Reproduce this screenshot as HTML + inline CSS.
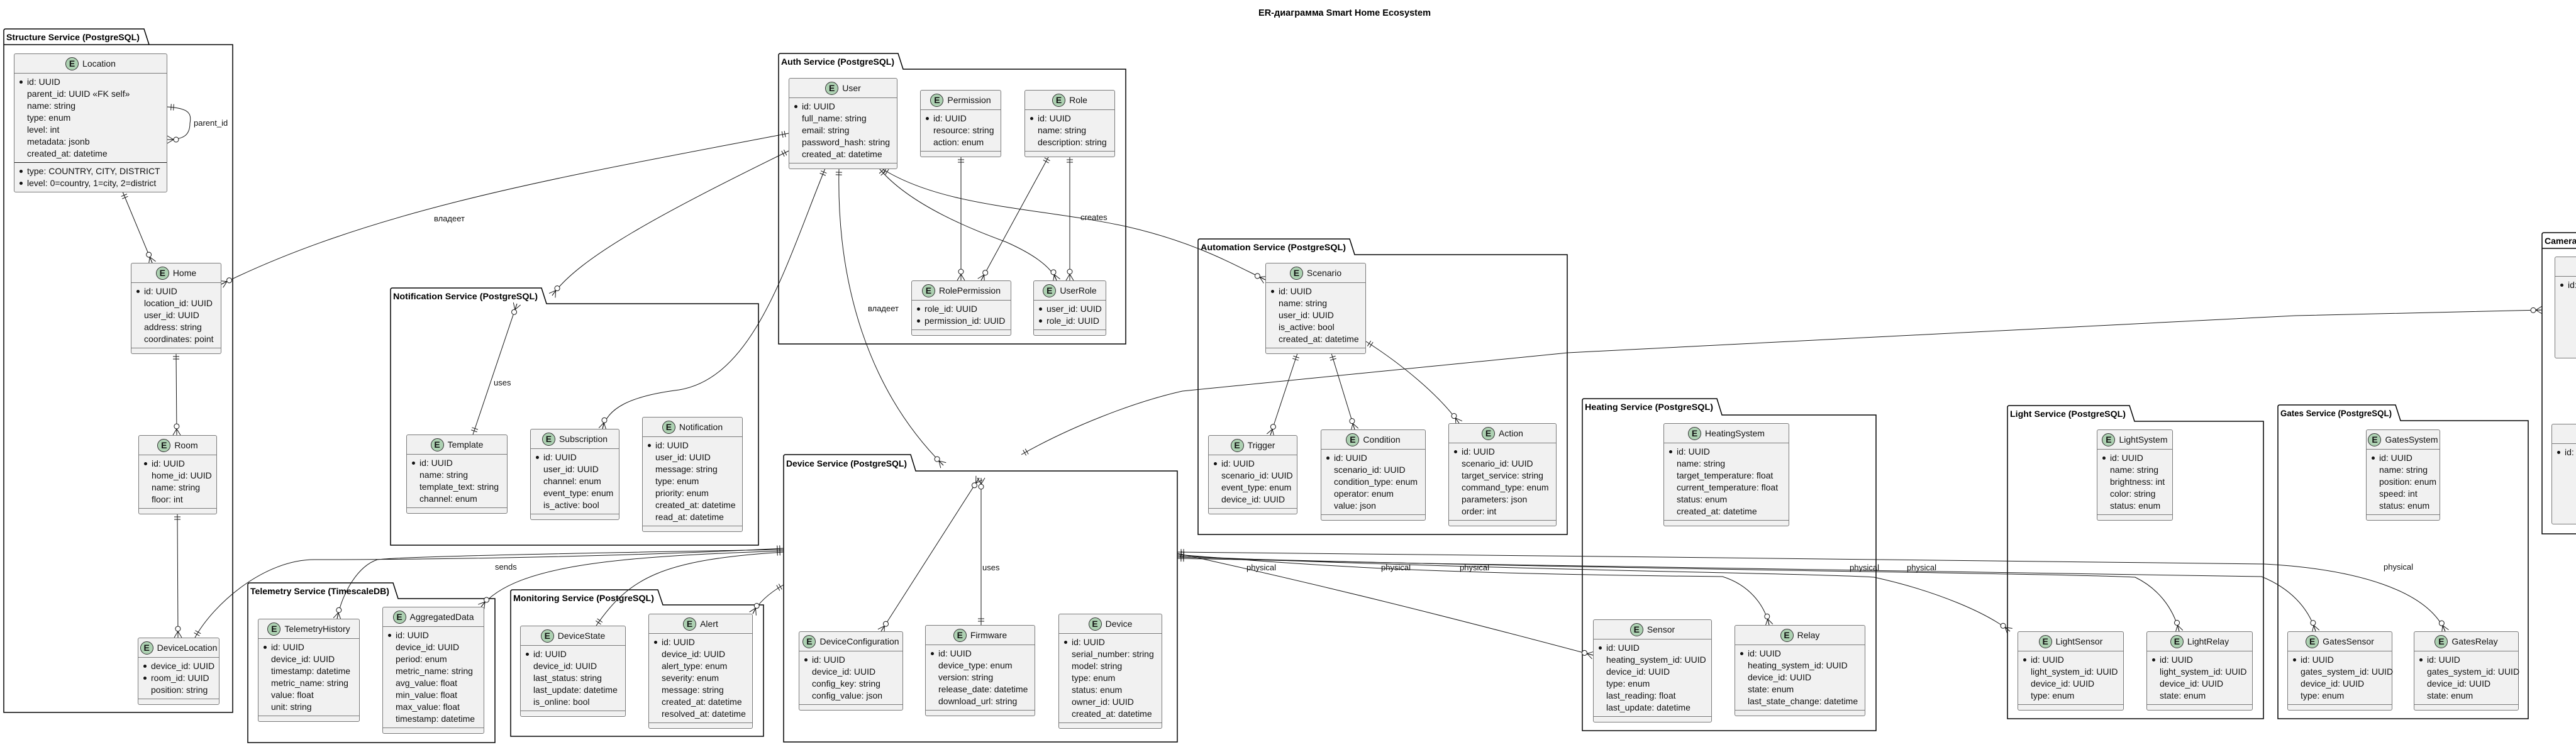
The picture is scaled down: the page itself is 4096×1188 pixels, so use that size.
<!DOCTYPE html>
<html><head><meta charset="utf-8">
<style>
html,body{margin:0;padding:0;background:#fff}
#w{position:relative;width:4096px;height:1188px;overflow:hidden;background:#fff;font-family:"Liberation Sans","DejaVu Sans",sans-serif}
svg{position:absolute;left:0;top:0}
.e{position:absolute;background:#f1f1f1;border:1px solid #7a7a7a;border-radius:3px;font-size:14px;color:#111;z-index:2;box-sizing:border-box}
.h{height:30px;border-bottom:1px solid #7a7a7a;display:flex;align-items:center;justify-content:center;gap:6px;white-space:nowrap}
.c{width:21px;height:21px;border-radius:50%;background:#ADD1B2;border:1px solid #333;font-weight:bold;display:flex;align-items:center;justify-content:center;font-size:14px;box-sizing:border-box;flex:none}
.b{padding:4px 0 4px 20px}
.r{height:19px;line-height:19px;white-space:nowrap;position:relative}
.k::before{content:"";position:absolute;left:-12px;top:7px;width:5px;height:5px;border-radius:50%;background:#111}
.s{border-top:1px solid #222}
.f{height:8px;border-top:1px solid #7a7a7a}
</style></head><body><div id="w">
<svg width="4096" height="1188" viewBox="0 0 4096 1188" xmlns="http://www.w3.org/2000/svg">
<defs>
<marker id="zm" markerUnits="userSpaceOnUse" markerWidth="30" markerHeight="20" refX="0" refY="0" viewBox="-22 -10 24 20" orient="auto-start-reverse">
<path d="M-10,0 L0,-6 M-10,0 L0,6 M-10,0 L0,0" stroke="#181818" stroke-width="1" fill="none"/>
<circle cx="-14" cy="0" r="4" fill="#fff" stroke="#181818" stroke-width="1"/>
</marker>
<marker id="one" markerUnits="userSpaceOnUse" markerWidth="30" markerHeight="20" refX="0" refY="0" viewBox="-22 -10 24 20" orient="auto-start-reverse">
<path d="M-6,-5 L-6,5 M-10,-5 L-10,5" stroke="#181818" stroke-width="1" fill="none"/>
</marker>
</defs>
<text x="2001" y="25" font-size="15" font-weight="bold" fill="#000" textLength="274" lengthAdjust="spacingAndGlyphs">ER-диаграмма Smart Home Ecosystem</text>
<g fill="none" stroke="#000" stroke-width="1.5">
<path d="M6,71 L6,49 Q6,46 9,46 L229,46 L237,71 L370,71 L370,1133 L6,1133 Z M6,71 L237,71"/>
<path d="M1238,110 L1238,88 Q1238,85 1241,85 L1428,85 L1436,110 L1790,110 L1790,547 L1238,547 Z"/>
<path d="M621,483 L621,461 Q621,458 624,458 L861,458 L869,483 L1206,483 L1206,867 L621,867 Z"/>
<path d="M394,952 L394,930 Q394,927 397,927 L625,927 L633,952 L787,952 L787,1181 L394,1181 Z"/>
<path d="M812,962 L812,941 Q812,938 815,938 L1046,938 L1054,962 L1214,962 L1214,1171 L812,1171 Z"/>
<path d="M1246,749 L1246,726 Q1246,723 1249,723 L1448,723 L1456,749 L1872,749 L1872,1180 L1246,1180 Z"/>
<path d="M1905,405 L1905,383 Q1905,380 1908,380 L2146,380 L2154,405 L2492,405 L2492,850 L1905,850 Z"/>
<path d="M2516,660 L2516,637 Q2516,634 2519,634 L2730,634 L2738,660 L2983,660 L2983,1162 L2516,1162 Z"/>
<path d="M3192,670 L3192,648 Q3192,645 3195,645 L3386,645 L3394,670 L3599,670 L3599,1143 L3192,1143 Z"/>
<path d="M3622,669 L3622,647 Q3622,644 3625,644 L3809,644 L3817,669 L4020,669 L4020,1143 L3622,1143 Z"/>
<path d="M4042,395 L4042,373 Q4042,370 4045,370 L4200,370 L4200,395 L4200,849 L4042,849 Z M4042,395 L4100,395"/>
</g>
<g font-size="14" font-weight="bold" fill="#000" lengthAdjust="spacingAndGlyphs">
<text x="10" y="64" textLength="212" lengthAdjust="spacingAndGlyphs">Structure Service (PostgreSQL)</text>
<text x="1242" y="103" textLength="180" lengthAdjust="spacingAndGlyphs">Auth Service (PostgreSQL)</text>
<text x="625" y="476" textLength="230" lengthAdjust="spacingAndGlyphs">Notification Service (PostgreSQL)</text>
<text x="398" y="945" textLength="221" lengthAdjust="spacingAndGlyphs">Telemetry Service (TimescaleDB)</text>
<text x="816" y="956" textLength="224" lengthAdjust="spacingAndGlyphs">Monitoring Service (PostgreSQL)</text>
<text x="1250" y="742" textLength="192" lengthAdjust="spacingAndGlyphs">Device Service (PostgreSQL)</text>
<text x="1909" y="398" textLength="231" lengthAdjust="spacingAndGlyphs">Automation Service (PostgreSQL)</text>
<text x="2520" y="652" textLength="204" lengthAdjust="spacingAndGlyphs">Heating Service (PostgreSQL)</text>
<text x="3196" y="663" textLength="184" lengthAdjust="spacingAndGlyphs">Light Service (PostgreSQL)</text>
<text x="3626" y="662" textLength="177" lengthAdjust="spacingAndGlyphs">Gates Service (PostgreSQL)</text>
<text x="4046" y="388">Camera Service</text>
</g>
<g fill="none" stroke="#181818" stroke-width="1">
<path d="M266,170 C300,172 305,180 302,196 C302,215 292,222 266,222" marker-start="url(#one)" marker-end="url(#zm)"/>
<path d="M195,305 L242,418" marker-start="url(#one)" marker-end="url(#zm)"/>
<path d="M280,561 L281,692" marker-start="url(#one)" marker-end="url(#zm)"/>
<path d="M282,816 L283,1014" marker-start="url(#one)" marker-end="url(#zm)"/>
<path d="M1254,212 C900,280 600,330 352,452" marker-start="url(#one)" marker-end="url(#zm)"/>
<path d="M1254,240 C1050,340 920,410 878,470" marker-start="url(#one)" marker-end="url(#zm)"/>
<path d="M752,691 L822,483" marker-start="url(#one)" marker-end="url(#zm)"/>
<path d="M1312,268 C1250,420 1200,600 1080,620 C1000,630 965,650 958,682" marker-start="url(#one)" marker-end="url(#zm)"/>
<path d="M1334,268 C1330,450 1380,620 1500,740" marker-start="url(#one)" marker-end="url(#zm)"/>
<path d="M1398,268 C1450,330 1560,370 1600,385 C1645,405 1672,425 1680,446" marker-start="url(#one)" marker-end="url(#zm)"/>
<path d="M1402,268 C1500,330 1650,330 1790,360 C1900,385 1960,420 2012,445" marker-start="url(#one)" marker-end="url(#zm)"/>
<path d="M1528,248 L1528,446" marker-start="url(#one)" marker-end="url(#zm)"/>
<path d="M1668,248 L1560,446" marker-start="url(#one)" marker-end="url(#zm)"/>
<path d="M1701,248 L1701,446" marker-start="url(#one)" marker-end="url(#zm)"/>
<path d="M2063,562 L2020,692" marker-start="url(#one)" marker-end="url(#zm)"/>
<path d="M2117,562 L2154,683" marker-start="url(#one)" marker-end="url(#zm)"/>
<path d="M2172,543 C2230,580 2290,630 2320,673" marker-start="url(#one)" marker-end="url(#zm)"/>
<path d="M1624,723 C1700,680 1800,640 1880,622 L2493,561 L3650,502 L4042,493" marker-start="url(#one)" marker-end="url(#zm)"/>
<path d="M1401,1004 L1557,760" marker-start="url(#zm)" marker-end="url(#zm)"/>
<path d="M1560,994 L1560,760" marker-start="url(#one)" marker-end="url(#zm)"/>
<path d="M1246,872 C1000,885 700,890 500,890 C420,890 340,960 310,1014" marker-start="url(#one)" marker-end="url(#one)"/>
<path d="M1246,874 C900,880 640,885 600,890 C570,900 545,940 536,984" marker-start="url(#one)" marker-end="url(#zm)"/>
<path d="M1246,876 C1000,885 820,895 765,965" marker-start="url(#one)" marker-end="url(#zm)"/>
<path d="M1246,878 C1050,890 1000,920 948,995" marker-start="url(#one)" marker-end="url(#one)"/>
<path d="M1246,930 C1220,945 1205,960 1197,976" marker-start="url(#one)" marker-end="url(#zm)"/>
<path d="M1872,880 C2100,930 2300,980 2533,1042" marker-start="url(#one)" marker-end="url(#zm)"/>
<path d="M1872,882 C2100,900 2250,912 2739,917 C2780,930 2805,960 2813,994" marker-start="url(#one)" marker-end="url(#zm)"/>
<path d="M1872,884 C2300,905 2900,912 2980,918 C3080,940 3160,975 3196,1004" marker-start="url(#one)" marker-end="url(#zm)"/>
<path d="M1872,886 C2500,905 3300,912 3395,918 C3430,935 3455,965 3465,1004" marker-start="url(#one)" marker-end="url(#zm)"/>
<path d="M1872,888 C2600,905 3500,912 3596,917 C3640,935 3670,965 3682,1004" marker-start="url(#one)" marker-end="url(#zm)"/>
<path d="M1872,878 C2400,885 3300,890 3600,897 C3750,905 3860,940 3888,1004" marker-start="url(#one)" marker-end="url(#zm)"/>
</g>
<g font-size="13" fill="#111">
<text x="308" y="200">parent_id</text>
<text x="690" y="352">владеет</text>
<text x="785" y="613">uses</text>
<text x="1380" y="495">владеет</text>
<text x="1718" y="350">creates</text>
<text x="1562" y="907">uses</text>
<text x="787" y="906">sends</text>
<text x="1982" y="907">physical</text>
<text x="2196" y="907">physical</text>
<text x="2321" y="907">physical</text>
<text x="2941" y="907">physical</text>
<text x="3032" y="907">physical</text>
<text x="3790" y="906">physical</text>
</g>
</svg>

<div class="e" style="left:22px;top:85px;width:244px"><div class="h"><span class="c">E</span>Location</div><div class="b"><div class="r k">id: UUID</div><div class="r">parent_id: UUID «FK self»</div><div class="r">name: string</div><div class="r">type: enum</div><div class="r">level: int</div><div class="r">metadata: jsonb</div><div class="r">created_at: datetime</div></div><div class="b s"><div class="r k">type: COUNTRY, CITY, DISTRICT</div><div class="r k">level: 0=country, 1=city, 2=district</div></div></div>
<div class="e" style="left:208px;top:418px;width:144px"><div class="h"><span class="c">E</span>Home</div><div class="b"><div class="r k">id: UUID</div><div class="r">location_id: UUID</div><div class="r">user_id: UUID</div><div class="r">address: string</div><div class="r">coordinates: point</div></div><div class="f"></div></div>
<div class="e" style="left:220px;top:692px;width:125px"><div class="h"><span class="c">E</span>Room</div><div class="b"><div class="r k">id: UUID</div><div class="r">home_id: UUID</div><div class="r">name: string</div><div class="r">floor: int</div></div><div class="f"></div></div>
<div class="e" style="left:219px;top:1014px;width:130px"><div class="h"><span class="c">E</span>DeviceLocation</div><div class="b"><div class="r k">device_id: UUID</div><div class="r k">room_id: UUID</div><div class="r">position: string</div></div><div class="f"></div></div>

<div class="e" style="left:1254px;top:124px;width:173px"><div class="h"><span class="c">E</span>User</div><div class="b"><div class="r k">id: UUID</div><div class="r">full_name: string</div><div class="r">email: string</div><div class="r">password_hash: string</div><div class="r">created_at: datetime</div></div><div class="f"></div></div>
<div class="e" style="left:1463px;top:143px;width:129px"><div class="h"><span class="c">E</span>Permission</div><div class="b"><div class="r k">id: UUID</div><div class="r">resource: string</div><div class="r">action: enum</div></div><div class="f"></div></div>
<div class="e" style="left:1629px;top:143px;width:144px"><div class="h"><span class="c">E</span>Role</div><div class="b"><div class="r k">id: UUID</div><div class="r">name: string</div><div class="r">description: string</div></div><div class="f"></div></div>
<div class="e" style="left:1449px;top:446px;width:159px"><div class="h"><span class="c">E</span>RolePermission</div><div class="b"><div class="r k">role_id: UUID</div><div class="r k">permission_id: UUID</div></div><div class="f"></div></div>
<div class="e" style="left:1643px;top:446px;width:116px"><div class="h"><span class="c">E</span>UserRole</div><div class="b"><div class="r k">user_id: UUID</div><div class="r k">role_id: UUID</div></div><div class="f"></div></div>

<div class="e" style="left:646px;top:691px;width:161px"><div class="h"><span class="c">E</span>Template</div><div class="b"><div class="r k">id: UUID</div><div class="r">name: string</div><div class="r">template_text: string</div><div class="r">channel: enum</div></div><div class="f"></div></div>
<div class="e" style="left:843px;top:682px;width:142px"><div class="h"><span class="c">E</span>Subscription</div><div class="b"><div class="r k">id: UUID</div><div class="r">user_id: UUID</div><div class="r">channel: enum</div><div class="r">event_type: enum</div><div class="r">is_active: bool</div></div><div class="f"></div></div>
<div class="e" style="left:1021px;top:663px;width:160px"><div class="h"><span class="c">E</span>Notification</div><div class="b"><div class="r k">id: UUID</div><div class="r">user_id: UUID</div><div class="r">message: string</div><div class="r">type: enum</div><div class="r">priority: enum</div><div class="r">created_at: datetime</div><div class="r">read_at: datetime</div></div><div class="f"></div></div>

<div class="e" style="left:410px;top:984px;width:162px"><div class="h"><span class="c">E</span>TelemetryHistory</div><div class="b"><div class="r k">id: UUID</div><div class="r">device_id: UUID</div><div class="r">timestamp: datetime</div><div class="r">metric_name: string</div><div class="r">value: float</div><div class="r">unit: string</div></div><div class="f"></div></div>
<div class="e" style="left:608px;top:965px;width:162px"><div class="h"><span class="c">E</span>AggregatedData</div><div class="b"><div class="r k">id: UUID</div><div class="r">device_id: UUID</div><div class="r">period: enum</div><div class="r">metric_name: string</div><div class="r">avg_value: float</div><div class="r">min_value: float</div><div class="r">max_value: float</div><div class="r">timestamp: datetime</div></div><div class="f"></div></div>

<div class="e" style="left:827px;top:995px;width:168px"><div class="h"><span class="c">E</span>DeviceState</div><div class="b"><div class="r k">id: UUID</div><div class="r">device_id: UUID</div><div class="r">last_status: string</div><div class="r">last_update: datetime</div><div class="r">is_online: bool</div></div><div class="f"></div></div>
<div class="e" style="left:1031px;top:976px;width:166px"><div class="h"><span class="c">E</span>Alert</div><div class="b"><div class="r k">id: UUID</div><div class="r">device_id: UUID</div><div class="r">alert_type: enum</div><div class="r">severity: enum</div><div class="r">message: string</div><div class="r">created_at: datetime</div><div class="r">resolved_at: datetime</div></div><div class="f"></div></div>

<div class="e" style="left:1270px;top:1004px;width:166px"><div class="h"><span class="c">E</span>DeviceConfiguration</div><div class="b"><div class="r k">id: UUID</div><div class="r">device_id: UUID</div><div class="r">config_key: string</div><div class="r">config_value: json</div></div><div class="f"></div></div>
<div class="e" style="left:1471px;top:994px;width:175px"><div class="h"><span class="c">E</span>Firmware</div><div class="b"><div class="r k">id: UUID</div><div class="r">device_type: enum</div><div class="r">version: string</div><div class="r">release_date: datetime</div><div class="r">download_url: string</div></div><div class="f"></div></div>
<div class="e" style="left:1683px;top:976px;width:165px"><div class="h"><span class="c">E</span>Device</div><div class="b"><div class="r k">id: UUID</div><div class="r">serial_number: string</div><div class="r">model: string</div><div class="r">type: enum</div><div class="r">status: enum</div><div class="r">owner_id: UUID</div><div class="r">created_at: datetime</div></div><div class="f"></div></div>

<div class="e" style="left:2012px;top:418px;width:160px"><div class="h"><span class="c">E</span>Scenario</div><div class="b"><div class="r k">id: UUID</div><div class="r">name: string</div><div class="r">user_id: UUID</div><div class="r">is_active: bool</div><div class="r">created_at: datetime</div></div><div class="f"></div></div>
<div class="e" style="left:1921px;top:692px;width:142px"><div class="h"><span class="c">E</span>Trigger</div><div class="b"><div class="r k">id: UUID</div><div class="r">scenario_id: UUID</div><div class="r">event_type: enum</div><div class="r">device_id: UUID</div></div><div class="f"></div></div>
<div class="e" style="left:2100px;top:683px;width:167px"><div class="h"><span class="c">E</span>Condition</div><div class="b"><div class="r k">id: UUID</div><div class="r">scenario_id: UUID</div><div class="r">condition_type: enum</div><div class="r">operator: enum</div><div class="r">value: json</div></div><div class="f"></div></div>
<div class="e" style="left:2303px;top:673px;width:172px"><div class="h"><span class="c">E</span>Action</div><div class="b"><div class="r k">id: UUID</div><div class="r">scenario_id: UUID</div><div class="r">target_service: string</div><div class="r">command_type: enum</div><div class="r">parameters: json</div><div class="r">order: int</div></div><div class="f"></div></div>

<div class="e" style="left:2645px;top:673px;width:200px"><div class="h"><span class="c">E</span>HeatingSystem</div><div class="b"><div class="r k">id: UUID</div><div class="r">name: string</div><div class="r">target_temperature: float</div><div class="r">current_temperature: float</div><div class="r">status: enum</div><div class="r">created_at: datetime</div></div><div class="f"></div></div>
<div class="e" style="left:2533px;top:985px;width:189px"><div class="h"><span class="c">E</span>Sensor</div><div class="b"><div class="r k">id: UUID</div><div class="r">heating_system_id: UUID</div><div class="r">device_id: UUID</div><div class="r">type: enum</div><div class="r">last_reading: float</div><div class="r">last_update: datetime</div></div><div class="f"></div></div>
<div class="e" style="left:2758px;top:994px;width:208px"><div class="h"><span class="c">E</span>Relay</div><div class="b"><div class="r k">id: UUID</div><div class="r">heating_system_id: UUID</div><div class="r">device_id: UUID</div><div class="r">state: enum</div><div class="r">last_state_change: datetime</div></div><div class="f"></div></div>

<div class="e" style="left:3334px;top:683px;width:121px"><div class="h"><span class="c">E</span>LightSystem</div><div class="b"><div class="r k">id: UUID</div><div class="r">name: string</div><div class="r">brightness: int</div><div class="r">color: string</div><div class="r">status: enum</div></div><div class="f"></div></div>
<div class="e" style="left:3208px;top:1004px;width:169px"><div class="h"><span class="c">E</span>LightSensor</div><div class="b"><div class="r k">id: UUID</div><div class="r">light_system_id: UUID</div><div class="r">device_id: UUID</div><div class="r">type: enum</div></div><div class="f"></div></div>
<div class="e" style="left:3413px;top:1004px;width:169px"><div class="h"><span class="c">E</span>LightRelay</div><div class="b"><div class="r k">id: UUID</div><div class="r">light_system_id: UUID</div><div class="r">device_id: UUID</div><div class="r">state: enum</div></div><div class="f"></div></div>

<div class="e" style="left:3762px;top:683px;width:118px"><div class="h"><span class="c">E</span>GatesSystem</div><div class="b"><div class="r k">id: UUID</div><div class="r">name: string</div><div class="r">position: enum</div><div class="r">speed: int</div><div class="r">status: enum</div></div><div class="f"></div></div>
<div class="e" style="left:3637px;top:1004px;width:167px"><div class="h"><span class="c">E</span>GatesSensor</div><div class="b"><div class="r k">id: UUID</div><div class="r">gates_system_id: UUID</div><div class="r">device_id: UUID</div><div class="r">type: enum</div></div><div class="f"></div></div>
<div class="e" style="left:3838px;top:1004px;width:167px"><div class="h"><span class="c">E</span>GatesRelay</div><div class="b"><div class="r k">id: UUID</div><div class="r">gates_system_id: UUID</div><div class="r">device_id: UUID</div><div class="r">state: enum</div></div><div class="f"></div></div>

<div class="e" style="left:4062px;top:408px;width:160px;height:162px"><div class="h"><span class="c">E</span>Camera</div><div class="b"><div class="r k">id: UUID</div></div></div>
<div class="e" style="left:4057px;top:674px;width:160px;height:160px"><div class="h"><span class="c">E</span>Stream</div><div class="b"><div class="r k">id: UUID</div></div></div>
</div></body></html>
